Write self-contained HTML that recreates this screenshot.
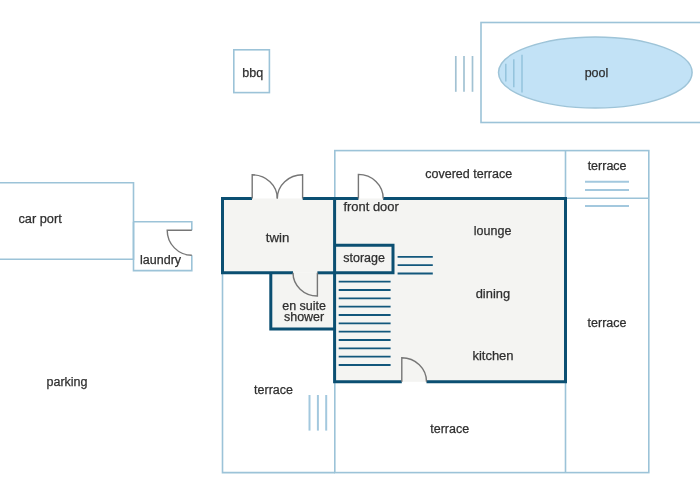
<!DOCTYPE html>
<html><head><meta charset="utf-8">
<style>
html,body{margin:0;padding:0;background:#fff;}
svg{display:block;will-change:transform;}
text{font-family:"Liberation Sans",sans-serif;font-size:12.5px;fill:#2e2e2e;stroke:#2e2e2e;stroke-width:0.25px;text-anchor:middle;}
</style></head>
<body>
<svg width="700" height="500" viewBox="0 0 700 500">
<!-- light blue outlines -->
<g fill="none" stroke="#9cc3d8" stroke-width="1.6">
  <rect x="233.8" y="49.8" width="35.6" height="42.8"/>
  <rect x="481" y="22.5" width="240" height="100"/>
  <rect x="334.8" y="150.6" width="314" height="322"/>
  <line x1="565.5" y1="150.5" x2="565.5" y2="472.5"/>
  <line x1="565.5" y1="198.3" x2="648.8" y2="198.3"/>
  <polyline points="222.5,198.5 222.5,472.6 334.8,472.6"/>
  <!-- car port -->
  <polyline points="-2,182.8 133.5,182.8 133.5,259.2 -2,259.2"/>
  <!-- laundry -->
  <polyline points="133.5,221.7 191.8,221.7 191.8,230.2"/>
  <polyline points="191.8,255.2 191.8,270.6 133.5,270.6 133.5,221.7"/>
</g>
<!-- pool -->
<ellipse cx="595.3" cy="72.5" rx="96.8" ry="35.5" fill="#c2e2f6" stroke="#9ec4d8" stroke-width="1.5"/>
<g stroke="#a2c2d3" stroke-width="1.7">
  <line x1="455.8" y1="56" x2="455.8" y2="91.8"/>
  <line x1="464" y1="56" x2="464" y2="91.8"/>
  <line x1="472.5" y1="56" x2="472.5" y2="91.8"/>
</g>
<g stroke="#93c3dc" stroke-width="1.5">
  <line x1="505.8" y1="63.8" x2="505.8" y2="81.6"/>
  <line x1="513.8" y1="59.3" x2="513.8" y2="87.3"/>
  <line x1="522" y1="54.7" x2="522" y2="92.4"/>
</g>
<!-- main fills -->
<rect x="222.5" y="198.5" width="112.3" height="74" fill="#f4f4f2"/>
<rect x="334.8" y="198.5" width="230.7" height="183.3" fill="#f4f4f2"/>
<rect x="270.8" y="272.5" width="64" height="56.5" fill="#f4f4f2"/>
<!-- terrace steps -->
<g stroke="#a3c8de" stroke-width="2">
  <line x1="585" y1="181.7" x2="629" y2="181.7"/>
  <line x1="585" y1="190" x2="629" y2="190"/>
  <line x1="585" y1="206" x2="629" y2="206"/>
  <line x1="309.5" y1="395" x2="309.5" y2="430.6"/>
  <line x1="317.9" y1="395" x2="317.9" y2="430.6"/>
  <line x1="326.2" y1="395" x2="326.2" y2="430.6"/>
</g>
<!-- dark walls -->
<g fill="none" stroke="#0b4f72" stroke-width="3">
  <!-- twin -->
  <polyline points="252,198.5 222.5,198.5 222.5,272.8 293,272.8"/>
  <polyline points="302.7,198.5 358.4,198.5"/>
  <polyline points="383.2,198.5 565.5,198.5 565.5,381.7 426.5,381.7"/>
  <polyline points="401.8,381.7 334.6,381.7 334.6,198.5"/>
  <polyline points="317.4,272.8 334.6,272.8"/>
  <!-- storage -->
  <polyline points="334.6,245.3 393,245.3 393,272.8 334.6,272.8"/>
  <!-- en suite -->
  <polyline points="270.8,272.8 270.8,329 334.6,329"/>
</g>
<g stroke="#12577c" stroke-width="1.8">
  <line x1="397.6" y1="256.9" x2="432.8" y2="256.9"/>
  <line x1="397.6" y1="265.1" x2="432.8" y2="265.1"/>
  <line x1="397.6" y1="273.5" x2="432.8" y2="273.5"/>
  <line x1="338.7" y1="281.7" x2="390.6" y2="281.7"/>
  <line x1="338.7" y1="290" x2="390.6" y2="290"/>
  <line x1="338.7" y1="298.3" x2="390.6" y2="298.3"/>
  <line x1="338.7" y1="306.6" x2="390.6" y2="306.6"/>
  <line x1="338.7" y1="315" x2="390.6" y2="315"/>
  <line x1="338.7" y1="323.3" x2="390.6" y2="323.3"/>
  <line x1="338.7" y1="331.6" x2="390.6" y2="331.6"/>
  <line x1="338.7" y1="340" x2="390.6" y2="340"/>
  <line x1="338.7" y1="348.3" x2="390.6" y2="348.3"/>
  <line x1="338.7" y1="356.6" x2="390.6" y2="356.6"/>
  <line x1="338.7" y1="365" x2="390.6" y2="365"/>
</g>
<!-- doors -->
<g fill="none" stroke="#767676" stroke-width="1.4">
  <path d="M252.2,198.5 V174.8 A25,23.7 0 0 1 277.3,198.5"/>
  <path d="M302.6,198.5 V174.8 A25.3,23.7 0 0 0 277.3,198.5"/>
  <path d="M358.4,198.5 V174.4 A24.8,24.1 0 0 1 383.2,198.5"/>
  <path d="M191.8,230.2 H167.2 A24.6,25 0 0 0 191.8,255.2"/>
  <path d="M293,272.8 A24.4,23.2 0 0 0 317.4,296 V272.8"/>
  <path d="M401.8,381.7 V357.8 A24.7,23.9 0 0 1 426.5,381.7"/>
</g>
<!-- labels -->
<text x="252.8" y="76.6">bbq</text>
<text x="596.5" y="77.2">pool</text>
<text x="468.7" y="177.8">covered terrace</text>
<text x="607.1" y="169.5">terrace</text>
<text x="371.1" y="210.7" style="font-size:12.9px">front door</text>
<text x="40.1" y="223.3" style="font-size:12.8px">car port</text>
<text x="277.6" y="241.6" style="font-size:13.2px">twin</text>
<text x="492.6" y="235">lounge</text>
<text x="364.1" y="262">storage</text>
<text x="160.6" y="263.5">laundry</text>
<text x="492.9" y="297.6" style="font-size:12.9px">dining</text>
<text x="304.1" y="309.6">en suite</text>
<text x="304.1" y="321.1">shower</text>
<text x="607" y="326.6">terrace</text>
<text x="493" y="360.3" style="font-size:13px">kitchen</text>
<text x="67" y="385.7">parking</text>
<text x="273.5" y="393.6">terrace</text>
<text x="449.7" y="432.9">terrace</text>
</svg>
</body></html>
